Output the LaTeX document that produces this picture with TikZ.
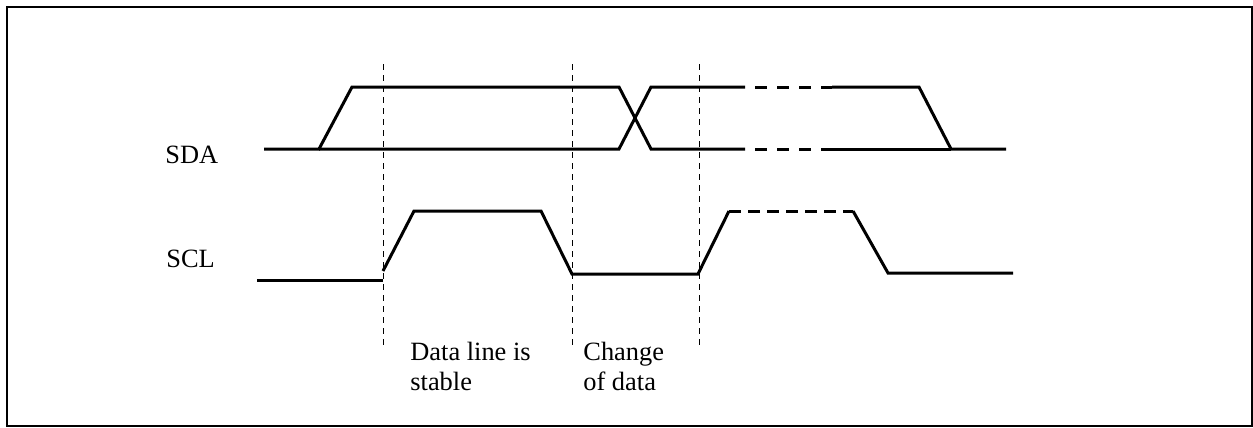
\documentclass[tikz,border=0pt]{standalone}
\usepackage{fontspec}
\setmainfont{Liberation Serif}
\tikzset{%
  signal/.style  = {line width=1.5pt, line join=miter},%
  pending/.style = {signal, dash pattern=on 6pt off 5pt, dash phase=6pt},%
  held/.style    = {signal, dash pattern=on 6pt off 3.5pt},%
  guide/.style   = {line width=0.5pt, dash pattern=on 3pt off 2.5pt},%
  frame/.style   = {line width=1pt},%
  caption/.style = {font=\fontsize{13.2}{15}\selectfont, inner sep=0pt, align=left}%
}

\begin{document}
\begin{tikzpicture}[x=0.5pt,y=-0.5pt]
	\useasboundingbox (0,0) rectangle (1253,428);
	\draw [frame] (7,7) rectangle (1252,426);
	% guides
	\foreach \x in {383,572,699}
		\draw [guide] (\x,64) -- (\x,348);
	% labels
	\node [caption, anchor=base west] (sda) at (165,163) {SDA};
	\node [caption, anchor=base west] (scl) at (166,267) {SCL};
	\node [caption, anchor=base west] (stable) at (410,390) {Data line is\\stable};
	\node [caption, anchor=base west] (change) at (583,390) {Change\\of data};
	% SDA
	\draw [signal] (264,149) -- (319,149) -- (352,87) -- (619,87) -- (651,149) -- (745,149);
	\draw [signal] (319,149) -- (619,149) -- (651,87) -- (745,87);
	\draw [pending] (745,87) -- (832,87);
	\draw [pending] (745,149) -- (832,149);
	\draw [signal] (832,87) -- (919,87) -- (951,149) -- (1006,149);
	\draw [signal] (832,149) -- (951,149);
	% SCL
	\draw [signal] (257,280) -- (383,280);
	\draw [signal] (383,271) -- (414,211) -- (541,211) -- (572,274) -- (698,274) -- (729,211);
	\draw [held] (729,211) -- (853,211);
	\draw [signal] (853,211) -- (888,273) -- (1013,273);
\end{tikzpicture}
\end{document}
